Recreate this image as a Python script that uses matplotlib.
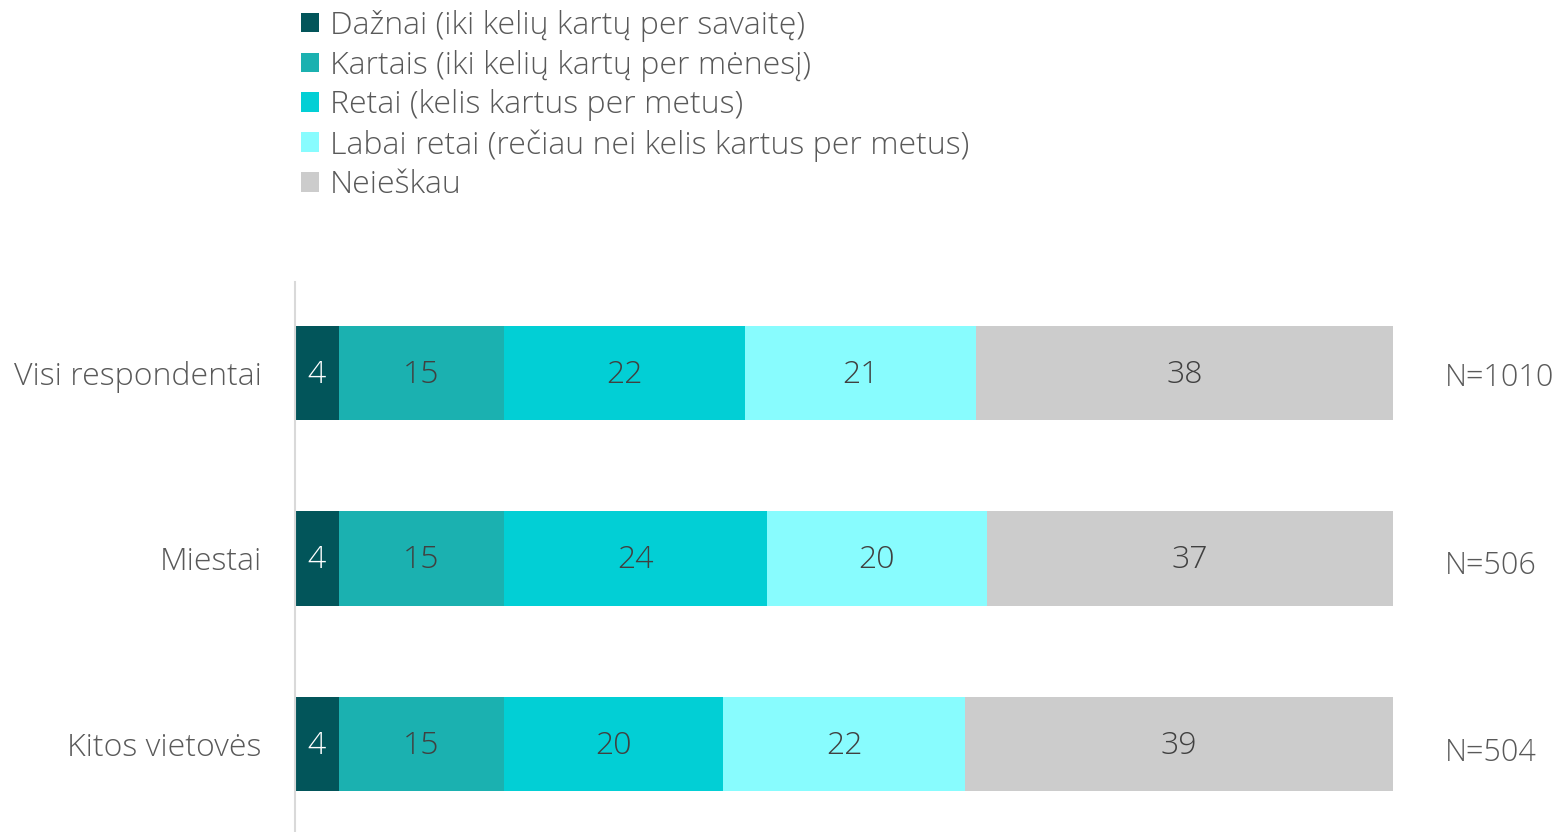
import matplotlib
matplotlib.use("Agg")
import matplotlib.pyplot as plt
from matplotlib.patches import Patch

plt.rcParams['font.family'] = ['Open Sans', 'DejaVu Sans']
plt.rcParams['font.weight'] = 'light'

categories = ["Visi respondentai", "Miestai", "Kitos vietovės"]
series_names = [
    "Dažnai (iki kelių kartų per savaitę)",
    "Kartais (iki kelių kartų per mėnesį)",
    "Retai (kelis kartus per metus)",
    "Labai retai (rečiau nei kelis kartus per metus)",
    "Neieškau",
]
values = [
    [4, 4, 4],
    [15, 15, 15],
    [22, 24, 20],
    [21, 20, 22],
    [38, 37, 39],
]
n_labels = ["N=1010", "N=506", "N=504"]
colors = ["#02555A", "#1BB1B0", "#02CFD5", "#88FCFE", "#CCCCCC"]
label_colors = ["white", "#404040", "#404040", "#404040", "#404040"]

FS = 23
FS_N = 22

fig = plt.figure(figsize=(15.6, 8.32), dpi=100)
ax = fig.add_axes([295/1560, 0, (1393-295)/1560, (832-282)/832])

y = list(range(len(categories)))
left = [0]*len(categories)
handles = []
for s, name in enumerate(series_names):
    ax.barh(y, values[s], left=left, height=0.51, color=colors[s], label=name)
    for i, v in enumerate(values[s]):
        ax.text(left[i] + v/2, y[i] + 0.01, str(v), ha='center', va='center',
                fontsize=FS, color=label_colors[s])
    left = [l + v for l, v in zip(left, values[s])]
    handles.append(Patch(facecolor=colors[s], edgecolor='none'))

n_offsets = [0.03, 0.04, 0.05]
for i, n in enumerate(n_labels):
    ax.text(104.75, y[i] + n_offsets[i], n, ha='left', va='center', fontsize=FS_N, color='#595959')

ax.set_xlim(0, 100)
ax.set_ylim(2.475, -0.49)
ax.set_yticks(y)
ax.set_yticklabels(categories, fontsize=FS, color='#595959')
ax.tick_params(axis='y', length=0, pad=24)
ax.set_xticks([])
for sp in ['top', 'right', 'bottom']:
    ax.spines[sp].set_visible(False)
ax.spines['left'].set_color('#D9D9D9')
ax.spines['left'].set_linewidth(1.5)

leg = fig.legend(handles, series_names, loc='upper left',
                 bbox_to_anchor=(301/1560, 1 - 10/832), frameon=False,
                 fontsize=FS, labelcolor='#595959', handlelength=0.56,
                 handleheight=0.56, handletextpad=0.34, labelspacing=0.24,
                 borderaxespad=0, borderpad=0)

fig.savefig("out.png", dpi=100)
